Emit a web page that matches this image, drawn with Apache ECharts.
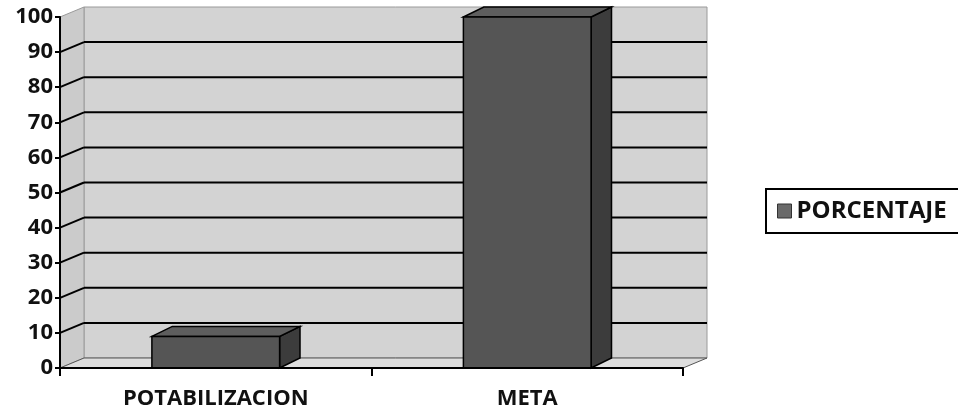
<!DOCTYPE html>
<html><head><meta charset="utf-8">
<script src="https://cdn.jsdelivr.net/npm/echarts@6/dist/echarts.min.js"></script>
<style>html,body{margin:0;padding:0;background:#fff}#c{width:958px;height:415px}</style>
</head><body><div id="c"></div>
<script>
const categories = ['POTABILIZACION', 'META'];
const porcentaje = [9, 100];
const yTicks = [0, 10, 20, 30, 40, 50, 60, 70, 80, 90, 100];
const seriesName = 'PORCENTAJE';

const DX = 24, DY = -10; // 3D depth offset
const FONT = '"Open Sans", sans-serif';

const chart = echarts.init(document.getElementById('c'));

function frameRender(params, api) {
  const cs = params.coordSys;
  const x0 = cs.x, x1 = cs.x + cs.width, yb = cs.y + cs.height, yt = cs.y;
  const children = [];
  const wall = '#d3d3d3';
  children.push({type: 'polygon', shape: {points: [[x0+DX, yt+DY], [x1+DX, yt+DY], [x1+DX, yb+DY], [x0+DX, yb+DY]]},
    style: {fill: wall, stroke: '#9a9a9a', lineWidth: 1}});
  children.push({type: 'polygon', shape: {points: [[x0, yt], [x0+DX, yt+DY], [x0+DX, yb+DY], [x0, yb]]},
    style: {fill: '#cbcbcb', stroke: '#9a9a9a', lineWidth: 1}});
  children.push({type: 'polygon', shape: {points: [[x0, yb], [x0+DX, yb+DY], [x1+DX, yb+DY], [x1, yb]]},
    style: {fill: '#dedede', stroke: '#555', lineWidth: 1}});
  yTicks.forEach(function (v) {
    const y = api.coord([0, v])[1];
    if (v > 0 && v < 100) {
      children.push({type: 'line', shape: {x1: x0+DX, y1: y+DY, x2: x1+DX, y2: y+DY}, style: {stroke: '#000', lineWidth: 2}});
      children.push({type: 'line', shape: {x1: x0, y1: y, x2: x0+DX, y2: y+DY}, style: {stroke: '#000', lineWidth: 2}});
    }
  });
  return {type: 'group', children: children};
}

function barRender(params, api) {
  const i = api.value(0), v = api.value(1);
  const top = api.coord([i, v]);
  const base = api.coord([i, 0]);
  const w = api.size([1, 0])[0] * 0.41;
  const l = top[0] - w / 2, r = top[0] + w / 2;
  const yt = top[1], yb = base[1];
  const dx = DX * 0.85;
  return {type: 'group', children: [
    {type: 'polygon', shape: {points: [[r, yt], [r+dx, yt+DY], [r+dx, yb+DY], [r, yb]]},
      style: {fill: '#3c3c3c', stroke: '#000', lineWidth: 1.5}},
    {type: 'polygon', shape: {points: [[l, yt], [l+dx, yt+DY], [r+dx, yt+DY], [r, yt]]},
      style: {fill: '#5e5e5e', stroke: '#000', lineWidth: 1.5}},
    {type: 'rect', shape: {x: l, y: yt, width: w, height: yb - yt},
      style: {fill: '#555555', stroke: '#000', lineWidth: 1.5}}
  ]};
}

chart.setOption({
  animation: false,
  backgroundColor: '#fff',
  grid: {left: 60, right: 275, top: 17, bottom: 47},
  legend: {
    data: [{name: seriesName, icon: 'rect', itemStyle: {color: '#6a6a6a', borderColor: '#333', borderWidth: 1}}],
    left: 766, top: 189,
    orient: 'vertical',
    itemWidth: 14, itemHeight: 14, itemGap: 6,
    padding: [10, 30, 10, 11],
    borderColor: '#000', borderWidth: 2,
    textStyle: {fontFamily: FONT, fontSize: 24, fontWeight: 'bold', color: '#111'}
  },
  xAxis: {
    type: 'category', data: categories,
    axisLine: {lineStyle: {color: '#000', width: 2}},
    axisTick: {show: true, length: 8, lineStyle: {color: '#000', width: 2}},
    axisLabel: {margin: 20, fontFamily: FONT, fontSize: 22, fontWeight: 'bold', color: '#111'},
    z: 10
  },
  yAxis: {
    type: 'value', min: 0, max: 100, interval: 10,
    axisLine: {show: true, lineStyle: {color: '#000', width: 2}},
    axisTick: {show: true, length: 5, lineStyle: {color: '#000', width: 2}},
    axisLabel: {margin: 7, fontFamily: FONT, fontSize: 22, fontWeight: 'bold', color: '#111'},
    splitLine: {show: false},
    z: 10
  },
  series: [
    {type: 'custom', name: 'frame', renderItem: frameRender, data: [[0, 0]], silent: true, z: 1, clip: false},
    {type: 'custom', name: seriesName, renderItem: barRender, itemStyle: {color: '#6a6a6a'},
      data: categories.map(function (c, i) { return [i, porcentaje[i]]; }), z: 5, clip: false}
  ]
});
</script></body></html>
